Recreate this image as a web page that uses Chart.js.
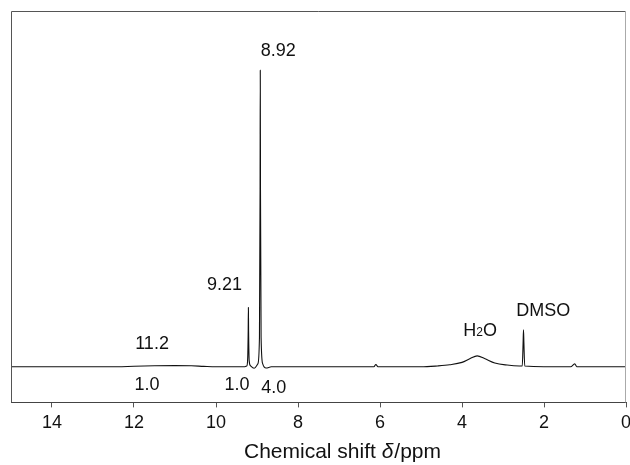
<!DOCTYPE html>
<html>
<head>
<meta charset="utf-8">
<script src="https://cdn.jsdelivr.net/npm/chart.js@4.4.1/dist/chart.umd.min.js"></script>
<style>
  html, body { margin: 0; padding: 0; background: #fff; }
  #wrap { width: 630px; height: 465px; }
</style>
</head>
<body>
<div id="wrap"><canvas id="nmrChart"></canvas></div>
<script>
// 1H NMR spectrum (DMSO-d6)
const shiftPpm = [15.0, 12.4, 12.0, 11.5, 11.0, 10.6, 10.3, 10.0, 9.35, 9.25, 9.23, 9.215, 9.21, 9.205, 9.19, 9.16, 9.07,
    8.98, 8.94, 8.925, 8.92, 8.915, 8.90, 8.86, 8.78, 8.65, 6.15, 6.10, 6.05, 5.0, 4.6, 4.3, 4.0, 3.8, 3.63, 3.45,
    3.2, 2.9, 2.6, 2.53, 2.51, 2.50, 2.49, 2.47, 1.35, 1.25, 1.2, 0.0];
const intensity = [0, 0, 0.2, 0.35, 0.4, 0.35, 0.15, 0, 0, 0.3, 2, 12, 20, 12, 2, 0.4, -0.5,
    1, 10, 60, 100, 60, 10, 1, -0.4, 0, 0, 0.8, 0, 0, 0.3, 0.7, 1.5, 2.8, 3.7, 2.8,
    1.3, 0.6, 0.3, 0.3, 8, 12.5, 8, 0.3, 0, 1, 0, 0];

const tickValues = [14, 12, 10, 8, 6, 4, 2, 0];

// peak labels and integrals
const peakLabels = ['8.92', '9.21', '11.2', 'H2O', 'DMSO'];
const peakLabelX = [8.48, 9.79, 11.56, 3.56, 2.02];
const peakLabelY = [106.4, 27.6, 7.7, 12.1, 18.8];
const integrals = ['1.0', '1.0', '4.0'];
const integralX = [11.68, 9.49, 8.59];
const integralY = [-6.1, -6.1, -7.1];

const fontFam = '"Liberation Sans", Arial, Helvetica, sans-serif';

const dataSpec = shiftPpm.map((v, i) => ({x: v, y: intensity[i]}));

const textPlugin = {
    id: 'nmrText',
    afterDraw(chart) {
        const ctx = chart.ctx;
        const xs = chart.scales.x;
        const ys = chart.scales.y;
        const a = chart.chartArea;
        ctx.save();
        // frame
        ctx.lineWidth = 1;
        ctx.strokeStyle = '#555';
        ctx.beginPath();
        ctx.moveTo(a.left + 0.5, a.bottom);
        ctx.lineTo(a.left + 0.5, a.top + 0.5);
        ctx.lineTo(a.right, a.top + 0.5);
        ctx.stroke();
        ctx.strokeStyle = '#aaa';
        ctx.beginPath();
        ctx.moveTo(a.right - 0.5, a.top);
        ctx.lineTo(a.right - 0.5, a.bottom);
        ctx.stroke();

        ctx.fillStyle = '#111';
        ctx.textBaseline = 'middle';
        ctx.font = '18px ' + fontFam;
        peakLabels.forEach((t, i) => {
            const px = xs.getPixelForValue(peakLabelX[i]);
            const py = ys.getPixelForValue(peakLabelY[i]);
            if (t === 'H2O') {
                const wH = ctx.measureText('H').width;
                ctx.font = '12px ' + fontFam;
                const w2 = ctx.measureText('2').width;
                ctx.font = '18px ' + fontFam;
                const wO = ctx.measureText('O').width;
                let x0 = px - (wH + w2 + wO) / 2;
                ctx.textAlign = 'left';
                ctx.fillText('H', x0, py);
                ctx.font = '12px ' + fontFam;
                ctx.fillText('2', x0 + wH, py + 2);
                ctx.font = '18px ' + fontFam;
                ctx.fillText('O', x0 + wH + w2, py);
            } else {
                ctx.textAlign = 'center';
                ctx.fillText(t, px, py);
            }
        });
        ctx.textAlign = 'center';
        integrals.forEach((t, i) => {
            ctx.fillText(t, xs.getPixelForValue(integralX[i]), ys.getPixelForValue(integralY[i]));
        });

        // axis title with italic delta
        const p1 = 'Chemical shift ';
        const p2 = 'δ';
        const p3 = '/ppm';
        ctx.font = '21px ' + fontFam;
        const w1 = ctx.measureText(p1).width;
        const w3 = ctx.measureText(p3).width;
        ctx.font = 'italic 21px ' + fontFam;
        const w2 = ctx.measureText(p2).width;
        let tx = 342 - (w1 + w2 + w3) / 2;
        const ty = 452;
        ctx.textAlign = 'left';
        ctx.font = '21px ' + fontFam;
        ctx.fillText(p1, tx, ty);
        ctx.font = 'italic 21px ' + fontFam;
        ctx.fillText(p2, tx + w1, ty);
        ctx.font = '21px ' + fontFam;
        ctx.fillText(p3, tx + w1 + w2 + 1, ty);
        ctx.restore();
    }
};

new Chart(document.getElementById('nmrChart'), {
    type: 'line',
    data: {
        datasets: [{
            data: dataSpec,
            borderColor: '#111',
            borderWidth: 1.1,
            pointRadius: 0,
            fill: false,
            cubicInterpolationMode: 'monotone'
        }]
    },
    options: {
        responsive: true,
        maintainAspectRatio: false,
        animation: false,
        layout: {
            padding: {left: 11, right: 4, top: 11, bottom: 26}
        },
        scales: {
            x: {
                type: 'linear',
                reverse: true,
                min: 0,
                max: 15,
                afterBuildTicks: (scale) => {
                    scale.ticks = tickValues.map(v => ({value: v}));
                },
                afterFit: (scale) => {
                    scale.paddingLeft = 0;
                    scale.paddingRight = 0;
                },
                grid: {
                    drawOnChartArea: false,
                    drawTicks: true,
                    tickLength: 5,
                    tickColor: '#555'
                },
                border: {
                    display: true,
                    color: '#444',
                    width: 1
                },
                ticks: {
                    color: '#111',
                    padding: 5,
                    maxRotation: 0,
                    font: {family: fontFam, size: 18}
                }
            },
            y: {
                display: false,
                min: -12,
                max: 120
            }
        },
        plugins: {
            legend: {display: false},
            tooltip: {enabled: false}
        }
    },
    plugins: [textPlugin]
});
</script>
</body>
</html>
